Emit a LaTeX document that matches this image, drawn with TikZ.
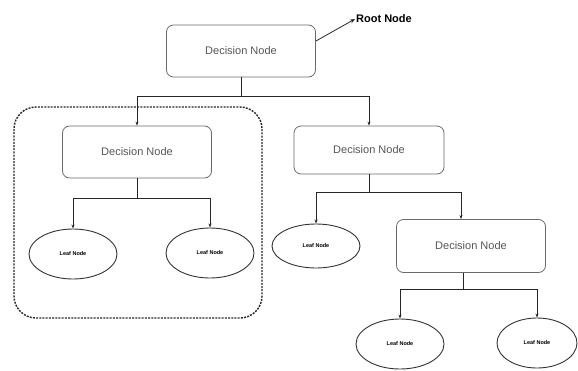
\documentclass[tikz,border=0pt]{standalone}
\usepackage{fontspec}
\setmainfont{Liberation Sans}
\usetikzlibrary{shapes.geometric,arrows.meta}
\definecolor{boxline}{HTML}{6A6A6A}
\definecolor{boxtext}{HTML}{555555}
\tikzset{
  dbox/.style={draw=boxline, line width=0.8pt, rounded corners=7pt, minimum width=149pt, minimum height=52pt, inner sep=0pt, text=boxtext, font=\fontsize{11}{13}\selectfont},
  leaf/.style={ellipse, draw=black!80, line width=0.9pt, minimum width=88pt, minimum height=50pt, inner sep=0pt, font=\bfseries\fontsize{5.5}{7}\selectfont},
  conn/.style={draw=black!85, line width=0.8pt},
  arr/.style={conn, -{Stealth[length=4pt,width=3pt]}},
  dashbox/.style={draw=black!85, line width=1.4pt, dash pattern=on 2pt off 1.2pt, rounded corners=22pt}
}
\begin{document}
\begin{tikzpicture}[x=1pt,y=-1pt]
\useasboundingbox (0,0) rectangle (578,370);
\draw[dashbox] (14,107) rectangle (262,318);
\node[dbox] (root) at (241,51) {Decision Node};
\node[font=\bfseries\fontsize{11}{13}\selectfont, inner sep=1pt] (rootlbl) at (384,19) {Root Node};
\node[dbox] (d1) at (137,152) {Decision Node};
\node[dbox, minimum width=150pt, minimum height=48pt] (d2) at (369,150) {Decision Node};
\node[dbox, minimum height=53pt] (d3) at (471,246) {Decision Node};
\node[leaf] (l1) at (73,254) {Leaf Node};
\node[leaf] (l2) at (210,253) {Leaf Node};
\node[leaf, minimum height=44pt] (l3) at (316,246) {Leaf Node};
\node[leaf] (l4) at (400,344) {Leaf Node};
\node[leaf, minimum width=80pt] (l5) at (537,343) {Leaf Node};
\coordinate (j0) at (241,96);
\coordinate (j1) at (137,198);
\coordinate (j2) at (369,192);
\coordinate (j3) at (463,289);
\draw[conn, -{Stealth[length=5pt,width=4pt]}] ([yshift=10pt]root.east) -- (rootlbl.west);
\draw[conn] (root) -- (j0);
\draw[arr] (j0) -| (d1);
\draw[arr] (j0) -| (d2);
\draw[conn] (d1) -- (j1);
\draw[arr] (j1) -| (l1);
\draw[arr] (j1) -| (l2);
\draw[conn] (d2) -- (j2);
\draw[arr] (j2) -| (l3);
\draw[arr] (j2) -| ([xshift=-10pt]d3.north);
\draw[conn] ([xshift=-8pt]d3.south) -- (j3);
\draw[arr] (j3) -| (l4);
\draw[arr] (j3) -| (l5);
\end{tikzpicture}
\end{document}
